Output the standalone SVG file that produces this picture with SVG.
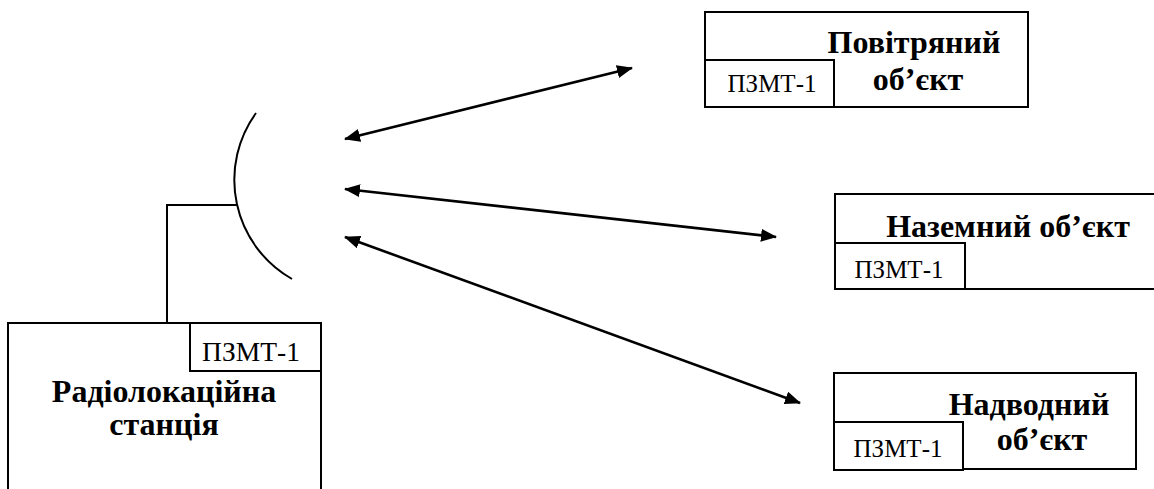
<svg xmlns="http://www.w3.org/2000/svg" width="1154" height="489" viewBox="0 0 1154 489">
  <style>
    .frame { fill: #fff; stroke: #000; stroke-width: 2; }
    .wire { fill: none; stroke: #000; stroke-width: 2; }
    .link { fill: none; stroke: #000; stroke-width: 2.6; marker-start: url(#head); marker-end: url(#head); }
    .title { font-family: "Liberation Serif", "DejaVu Serif", serif; font-weight: bold; font-size: 32px; fill: #000; text-anchor: middle; }
    .tag { font-family: "Liberation Serif", "DejaVu Serif", serif; font-size: 25px; fill: #000; text-anchor: middle; }
  </style>
  <defs>
    <marker id="head" viewBox="0 0 16 13" refX="15" refY="6.5" markerWidth="16" markerHeight="13" markerUnits="userSpaceOnUse" orient="auto-start-reverse">
      <path d="M0,0 L16,6.5 L0,13 z" fill="#000"/>
    </marker>
  </defs>
  <rect width="1154" height="489" fill="#fff"/>

  <!-- radar station with antenna -->
  <g id="radar">
    <rect class="frame" x="8" y="323" width="313" height="190"/>
    <rect class="frame" x="190" y="323" width="131" height="48"/>
    <text class="tag" x="251" y="361" style="font-size:27.5px">ПЗМТ-1</text>
    <text class="title" x="164" y="402">Радіолокаційна</text>
    <text class="title" x="164" y="435">станція</text>
  </g>
  <g id="antenna">
    <path class="wire" d="M167,323 V205 H238"/>
    <path class="wire" d="M256,113 A114,114 0 0 0 292,279"/>
  </g>

  <!-- airborne target -->
  <g id="air-object">
    <rect class="frame" x="705" y="12" width="323" height="95"/>
    <rect class="frame" x="705" y="60" width="129" height="47"/>
    <text class="tag" x="772" y="92">ПЗМТ-1</text>
    <text class="title" x="914" y="53">Повітряний</text>
    <text class="title" x="918" y="90">об’єкт</text>
  </g>

  <!-- ground target -->
  <g id="ground-object">
    <rect class="frame" x="835" y="194" width="340" height="95"/>
    <rect class="frame" x="835" y="243" width="130" height="46"/>
    <text class="tag" x="899" y="278">ПЗМТ-1</text>
    <text class="title" x="1008" y="237">Наземний об’єкт</text>
  </g>

  <!-- surface target -->
  <g id="surface-object">
    <rect class="frame" x="834" y="373" width="302" height="96"/>
    <rect class="frame" x="834" y="422" width="129" height="48"/>
    <text class="tag" x="898" y="457">ПЗМТ-1</text>
    <text class="title" x="1029" y="415">Надводний</text>
    <text class="title" x="1042" y="450">об’єкт</text>
  </g>

  <!-- two-way signal paths -->
  <g id="connectors">
    <line class="link" x1="345" y1="139" x2="632" y2="68"/>
    <line class="link" x1="345" y1="189" x2="776" y2="237"/>
    <line class="link" x1="345" y1="237" x2="800" y2="403"/>
  </g>
</svg>
